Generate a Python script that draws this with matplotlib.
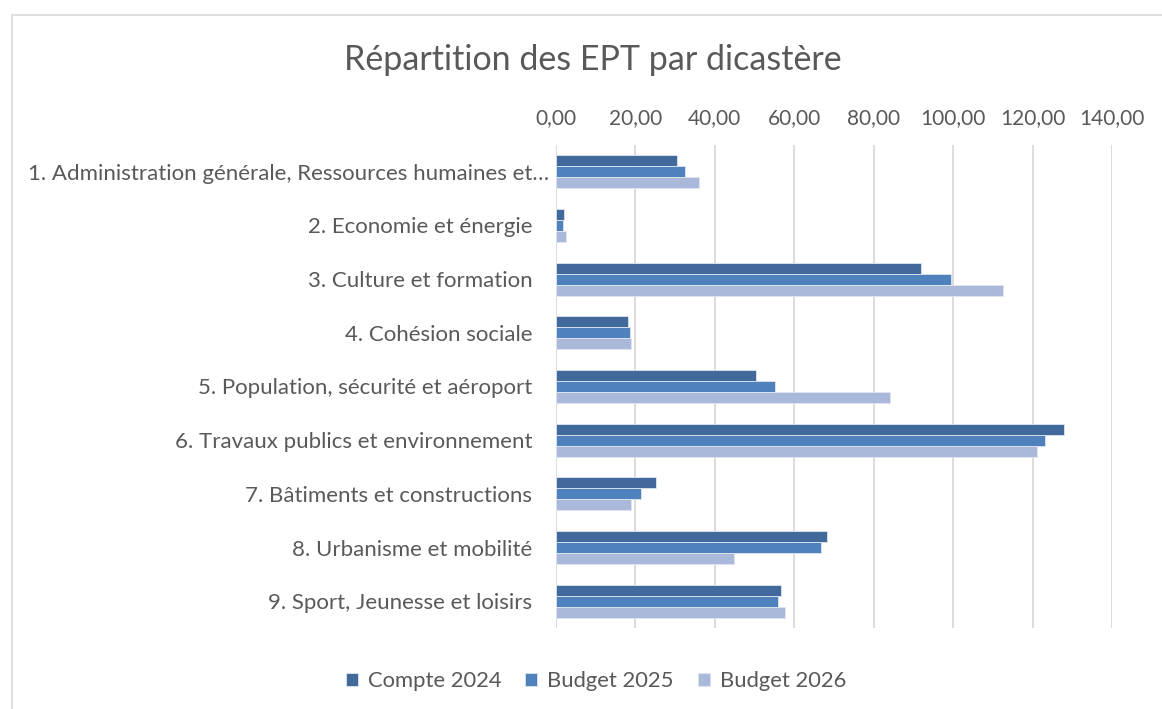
#!/usr/bin/env python3
import numpy as np
import matplotlib
matplotlib.use('Agg')
import matplotlib.pyplot as plt
from matplotlib.patches import Rectangle
from matplotlib.ticker import FuncFormatter
from matplotlib.transforms import ScaledTranslation

categories = [
    '1. Administration générale, Ressources humaines et…',
    '2. Economie et énergie',
    '3. Culture et formation',
    '4. Cohésion sociale',
    '5. Population, sécurité et aéroport',
    '6. Travaux publics et environnement',
    '7. Bâtiments et constructions',
    '8. Urbanisme et mobilité',
    '9. Sport, Jeunesse et loisirs',
]
compte_2024 = [30.4, 2.0, 91.8, 18.2, 50.3, 127.8, 25.3, 68.3, 56.6]
budget_2025 = [32.6, 1.8, 99.5, 18.7, 55.1, 123.2, 21.5, 66.7, 56.0]
budget_2026 = [35.9, 2.6, 112.6, 19.0, 84.1, 121.1, 18.8, 44.9, 57.6]
series_names = ['Compte 2024', 'Budget 2025', 'Budget 2026']
colors = ['#41699b', '#4f81bd', '#aab9d9']

plt.rcParams['font.family'] = ['Lato', 'DejaVu Sans']
txt = '#595959'

fig = plt.figure(figsize=(11.62, 7.09), dpi=100)
fig.patches.append(Rectangle((12 / 1162, -0.05), 1.1, 1 - 15 / 709 + 0.05,
                             transform=fig.transFigure, fill=False,
                             edgecolor='#d9d9d9', linewidth=1.2))
ax = fig.add_axes([556 / 1162, 1 - 628 / 709, (1112 - 556) / 1162, (628 - 145) / 709])

y = np.arange(len(categories))
h = 0.204
for i, (vals, name) in enumerate(zip([compte_2024, budget_2025, budget_2026], series_names)):
    ax.barh(y + (i - 1) * h, vals, height=h, color=colors[i], label=name,
            edgecolor='#dfe6f0', linewidth=0.6, zorder=3)

ax.set_xlim(0, 140)
ax.set_xticks(np.arange(0, 141, 20))
ax.xaxis.set_major_formatter(FuncFormatter(lambda v, p: f'{v:.2f}'.replace('.', ',')))
ax.xaxis.tick_top()
ax.set_ylim(len(categories) - 0.5, -0.5)
ax.set_yticks(y)
ax.set_yticklabels(categories)
ax.tick_params(axis='both', length=0, colors=txt)
ax.tick_params(axis='x', pad=12, labelsize=15)
ax.tick_params(axis='y', pad=17, labelsize=16)
ax.grid(axis='x', color='#d9d9d9', linewidth=1.3, zorder=0)
for s in ax.spines.values():
    s.set_visible(False)

# the truncated first label sits closer to the axis, as in Excel
lab = ax.get_yticklabels()[0]
lab.set_transform(lab.get_transform() + ScaledTranslation(0.17, 0, fig.dpi_scale_trans))

fig.text(593 / 1162, 1 - 60 / 709, 'Répartition des EPT par dicastère',
         ha='center', va='center', fontsize=24.5, color=txt)

fig.legend(loc='center', bbox_to_anchor=(596 / 1162, 1 - 681 / 709), ncol=3,
           frameon=False, fontsize=15.8, labelcolor=txt, handlelength=0.55,
           handleheight=0.55, handletextpad=0.45, columnspacing=1.1)

fig.savefig('out.png', dpi=100)
